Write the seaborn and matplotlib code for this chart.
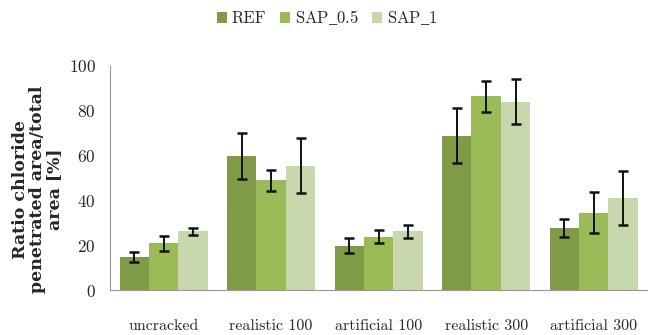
import matplotlib
matplotlib.use("Agg")
import matplotlib.pyplot as plt
import seaborn as sns
import pandas as pd
import numpy as np
from matplotlib.patches import Patch

categories = ["uncracked", "realistic 100", "artificial 100", "realistic 300", "artificial 300"]
series = ["REF", "SAP_0.5", "SAP_1"]
ref_vals = [14.8, 59.7, 19.8, 68.9, 27.6]
ref_err = [2.2, 10.3, 3.4, 12.4, 4.0]
sap05_vals = [20.8, 49.1, 23.8, 86.4, 34.6]
sap05_err = [3.3, 4.7, 2.8, 7.0, 9.2]
sap1_vals = [26.2, 55.5, 26.2, 84.1, 41.0]
sap1_err = [1.4, 12.2, 3.0, 10.2, 12.0]
colors = ["#7f9b48", "#9bbb59", "#c8d7ad"]

sns.set_theme(style="white")
plt.rcParams["font.family"] = ["cmr10", "DejaVu Serif"]
plt.rcParams["axes.formatter.use_mathtext"] = True
plt.rcParams["mathtext.fontset"] = "stix"

values = [ref_vals, sap05_vals, sap1_vals]
errors = [ref_err, sap05_err, sap1_err]
df = pd.DataFrame({
    "category": [c for _ in series for c in categories],
    "series": [s for s in series for _ in categories],
    "value": [v for vals in values for v in vals],
})

fig = plt.figure(figsize=(6.54, 3.35), dpi=100)
ax = fig.add_axes([0.168, 0.134, 0.822, 0.669])

sns.barplot(data=df, x="category", y="value", hue="series", order=categories,
            hue_order=series, palette=colors, errorbar=None, width=0.82,
            saturation=1, linewidth=0, ax=ax, legend=False)

# error bars centred on each drawn bar
bars = [p for p in ax.patches if p.get_height() > 0]
for k, s in enumerate(series):
    for i in range(len(categories)):
        b = bars[k * len(categories) + i]
        xc = b.get_x() + b.get_width() / 2
        ax.errorbar(xc, values[k][i], yerr=errors[k][i], fmt="none",
                    ecolor="#111111", elinewidth=1.4, capsize=3.5, capthick=1.8)

ax.set_xlim(-0.5, len(categories) - 0.5)
ax.set_ylim(0, 100)
ax.set_yticks(np.arange(0, 101, 20))
ax.set_xticks(range(len(categories)))
ax.set_xticklabels(categories)
ax.set_xticks(np.arange(-0.5, len(categories), 1), minor=True)
ax.tick_params(axis="x", which="major", length=0, pad=21, labelsize=11.5)
ax.tick_params(axis="x", which="minor", length=7, width=0.8, color="#999999", direction="out")
ax.tick_params(axis="y", length=6, width=0.8, color="#999999", direction="out", labelsize=12.5, pad=4)
ax.set_xlabel("")
ax.set_ylabel("Ratio chloride\npenetrated area/total\narea [%]", fontsize=12.5,
              family=["DejaVu Serif"], fontweight="bold", linespacing=1.0,
              va="center", ha="center")
ax.yaxis.set_label_coords(-0.134, 0.45)

for side in ["top", "right"]:
    ax.spines[side].set_visible(False)
for side in ["left", "bottom"]:
    ax.spines[side].set_color("#999999")
    ax.spines[side].set_linewidth(0.8)

# underscores set through mathtext, cmr10 has no low-line glyph
legend_labels = [s.replace("_", r"$\_$") for s in series]
handles = [Patch(facecolor=c, edgecolor="none") for c in colors]
fig.legend(handles, legend_labels, loc="upper center", bbox_to_anchor=(0.5, 1.02), ncol=3,
           frameon=False, fontsize=12, handlelength=0.6, handleheight=0.6,
           handletextpad=0.3, columnspacing=0.8)

fig.savefig("out.png", dpi=100)
